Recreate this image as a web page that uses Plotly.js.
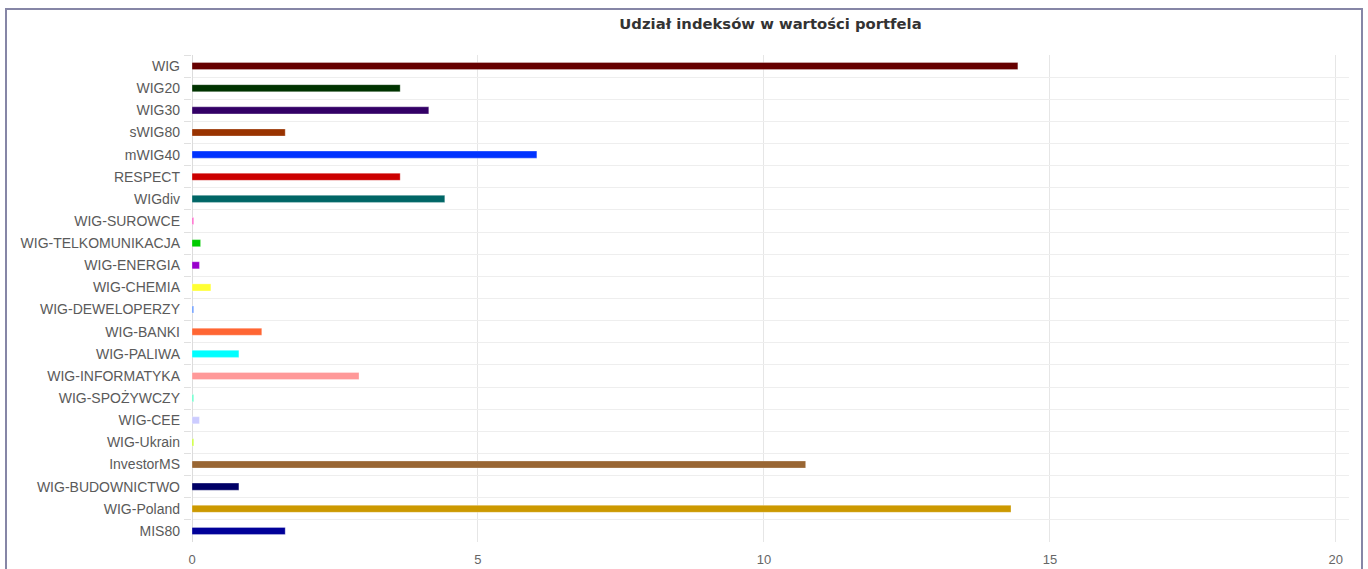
<!DOCTYPE html>
<html>
<head>
<meta charset="utf-8">
<script src="https://cdn.plot.ly/plotly-3.0.1.min.js"></script>
<style>
  html, body { margin:0; padding:0; background:#fff; width:1368px; height:569px; overflow:hidden; }
  #chart { position:absolute; left:0; top:0; width:1368px; height:569px; }
  #frame { position:absolute; left:5px; top:8px; width:1358px; height:600px; box-sizing:border-box;
           border:2px solid #8686a6; pointer-events:none; }
</style>
</head>
<body>
<div id="chart"></div>
<div id="frame"></div>
<script>
const categories = ["WIG","WIG20","WIG30","sWIG80","mWIG40","RESPECT","WIGdiv","WIG-SUROWCE",
  "WIG-TELKOMUNIKACJA","WIG-ENERGIA","WIG-CHEMIA","WIG-DEWELOPERZY","WIG-BANKI","WIG-PALIWA",
  "WIG-INFORMATYKA","WIG-SPOŻYWCZY","WIG-CEE","WIG-Ukrain","InvestorMS","WIG-BUDOWNICTWO",
  "WIG-Poland","MIS80"];
const values = [14.44, 3.64, 4.14, 1.63, 6.03, 3.64, 4.42, 0.03,
  0.15, 0.13, 0.33, 0.03, 1.22, 0.82,
  2.92, 0.03, 0.13, 0.03, 10.73, 0.82,
  14.32, 1.63];
const barColors = ["#660000","#003300","#330066","#993300","#0033ff","#cc0000","#006666","#ff66cc",
  "#00cc00","#9900cc","#ffff33","#6699ff","#ff6633","#00ffff",
  "#ff9999","#66ffcc","#ccccff","#ccff33","#996633","#000066",
  "#cc9900","#000099"];
const xTicks = [0, 5, 10, 15, 20];
const chartTitle = "Udział indeksów w wartości portfela";

const trace = {
  type: "bar",
  orientation: "h",
  x: values,
  y: categories,
  width: 0.32,
  marker: { color: barColors, line: { color: "rgba(255,255,255,0.6)", width: 0.5 } },
  hoverinfo: "x+y"
};

const layout = {
  width: 1368, height: 569,
  margin: { l: 192, r: 19, t: 55, b: 27 },
  paper_bgcolor: "#ffffff",
  plot_bgcolor: "#ffffff",
  showlegend: false,
  title: {
    text: chartTitle,
    x: 0.5, xref: "paper", xanchor: "center",
    y: 1 - 24/569, yref: "container", yanchor: "middle",
    font: { family: "DejaVu Sans, sans-serif", size: 14.8, color: "#333333", weight: "bold" }
  },
  xaxis: {
    range: [0, 20.23],
    tickvals: xTicks,
    ticktext: xTicks.map(String),
    showgrid: true, gridcolor: "#e6e6e6", gridwidth: 1,
    zeroline: true, zerolinecolor: "#dcdcdc", zerolinewidth: 1,
    showline: false,
    ticks: "",
    ticklabelstandoff: 8,
    tickfont: { family: "Liberation Sans, Arial, sans-serif", size: 13, color: "#666666" },
    fixedrange: true
  },
  yaxis: {
    type: "category",
    categoryorder: "array",
    categoryarray: categories,
    autorange: "reversed",
    tickson: "boundaries",
    showgrid: true, gridcolor: "#eeeeee", gridwidth: 1,
    ticks: "outside", ticklen: 7, tickcolor: "#e0e0e0", tickwidth: 1,
    ticklabelstandoff: 11,
    showline: false,
    tickfont: { family: "Liberation Sans, Arial, sans-serif", size: 14, color: "#5a5a5a" },
    fixedrange: true
  }
};

Plotly.newPlot("chart", [trace], layout, { displayModeBar: false, staticPlot: false });
</script>
</body>
</html>
